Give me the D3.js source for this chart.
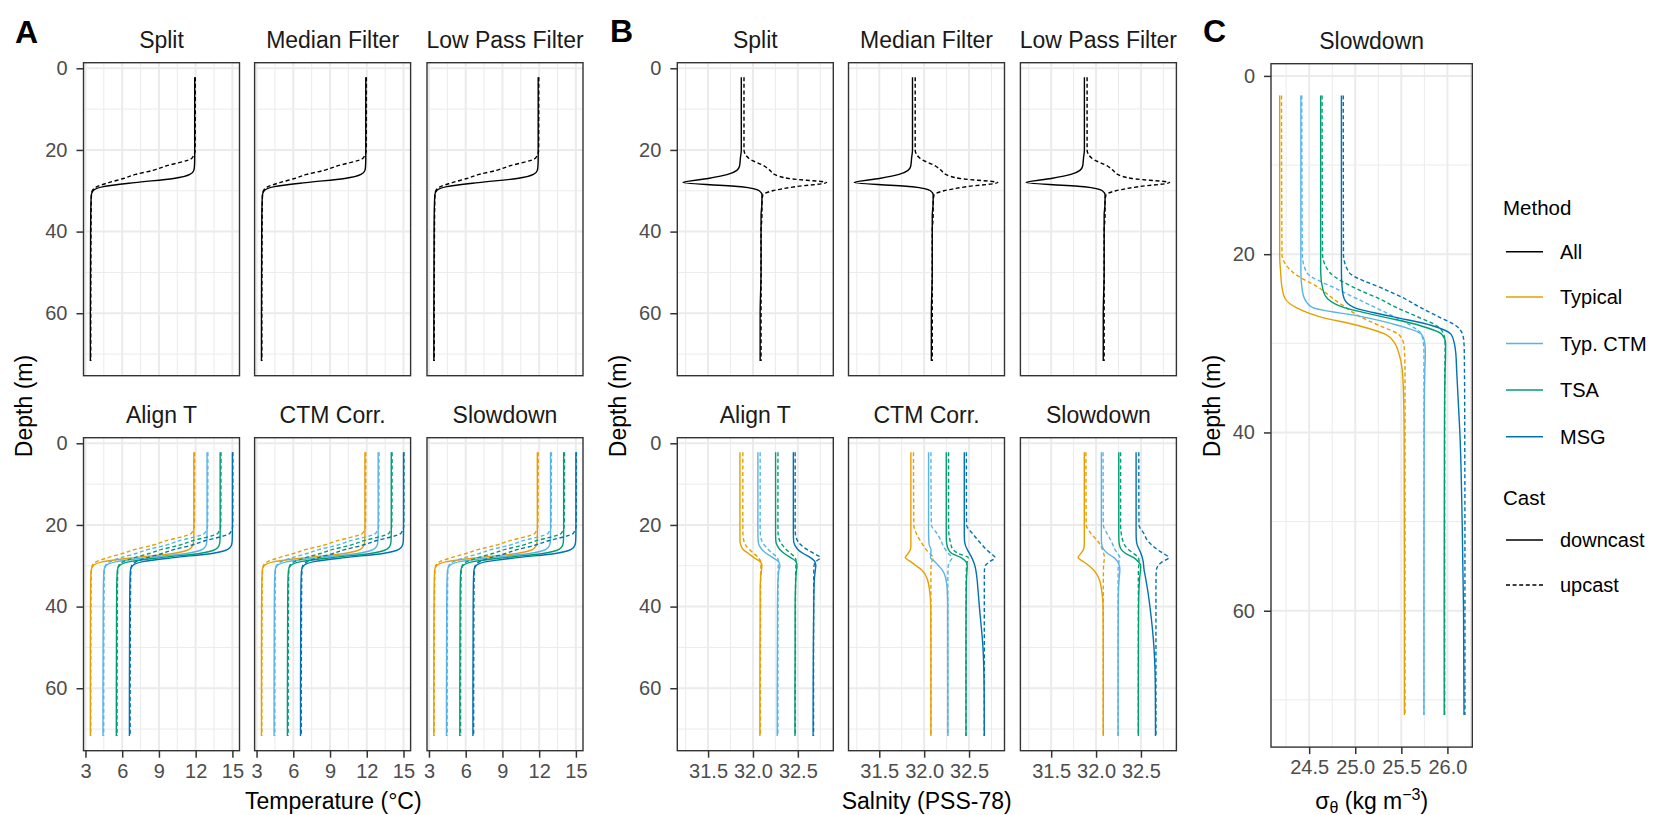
<!DOCTYPE html>
<html>
<head>
<meta charset="utf-8">
<script src="https://cdn.jsdelivr.net/npm/d3@7"></script>
<style>
  body { margin: 0; background: #fff; }
  svg text { font-family: "Liberation Sans", Arial, Helvetica, sans-serif; }
</style>
</head>
<body>
<svg id="fig" width="1654" height="815"></svg>
<script>
// depth of every sample (m), shared by all profiles
const depths = [2.2, 20, 22, 24, 25, 26, 27, 28, 29, 30, 31, 33, 36, 40, 50, 60, 71.7];

// temperature (deg C) - same in Split / Median Filter / Low Pass Filter
const tAllDown = [11.92, 11.92, 11.92, 11.9, 11.85, 11.53, 10.2, 7.03, 4.46, 3.62, 3.48, 3.45, 3.43, 3.42, 3.41, 3.4, 3.4];
const tAllUp   = [11.97, 11.96, 11.7, 9.5, 8.5, 7.1, 6.1, 4.9, 3.95, 3.56, 3.49, 3.47, 3.46, 3.45, 3.44, 3.43, 3.43];
// temperature - same in Align T / CTM Corr. / Slowdown
const tTypDown = [11.85, 11.85, 11.85, 11.83, 11.77, 11.47, 10.15, 7.0, 4.46, 3.62, 3.47, 3.44, 3.42, 3.41, 3.4, 3.4, 3.4];
const tTypUp   = [11.92, 11.9, 11.66, 9.45, 8.42, 7.06, 6.03, 4.84, 3.9, 3.55, 3.49, 3.47, 3.46, 3.45, 3.44, 3.43, 3.43];
const tCtmDown = [12.93, 12.93, 12.93, 12.91, 12.85, 12.55, 11.23, 8.08, 5.53, 4.67, 4.52, 4.48, 4.46, 4.45, 4.44, 4.43, 4.43];
const tCtmUp   = [13.0, 12.98, 12.74, 10.53, 9.5, 8.14, 7.12, 5.93, 4.99, 4.62, 4.55, 4.53, 4.52, 4.51, 4.5, 4.49, 4.49];
const tTsaDown = [14.0, 14.0, 14.0, 13.98, 13.92, 13.62, 12.3, 9.17, 6.62, 5.77, 5.61, 5.57, 5.55, 5.54, 5.53, 5.52, 5.52];
const tTsaUp   = [14.07, 14.05, 13.82, 11.61, 10.59, 9.23, 8.21, 7.02, 6.09, 5.71, 5.64, 5.62, 5.61, 5.6, 5.59, 5.58, 5.58];
const tMsgDown = [15.0, 15.0, 15.0, 14.98, 14.92, 14.62, 13.32, 10.21, 7.69, 6.84, 6.68, 6.64, 6.62, 6.61, 6.6, 6.59, 6.59];
const tMsgUp   = [15.04, 15.03, 14.8, 12.62, 11.61, 10.26, 9.25, 8.07, 7.15, 6.77, 6.71, 6.69, 6.68, 6.67, 6.66, 6.65, 6.65];

// salinity (PSS-78) - top row
const sAllDown = [31.87, 31.87, 31.86, 31.85, 31.82, 31.72, 31.5, 31.22, 31.87, 32.07, 32.1, 32.1, 32.09, 32.09, 32.09, 32.08, 32.08];
const sAllUp   = [31.9, 31.9, 31.95, 32.13, 32.19, 32.24, 32.4, 32.82, 32.47, 32.22, 32.11, 32.1, 32.1, 32.09, 32.09, 32.09, 32.09];
// salinity - Align T
const sTypAlignDown = [31.855, 31.855, 31.855, 31.856, 31.865, 31.89, 31.95, 32.01, 32.08, 32.1, 32.095, 32.085, 32.08, 32.08, 32.078, 32.077, 32.077];
const sTypAlignUp   = [31.887, 31.887, 31.888, 31.9, 31.92, 31.96, 32.01, 32.06, 32.085, 32.088, 32.087, 32.086, 32.085, 32.085, 32.084, 32.083, 32.083];
const sCtmAlignDown = [32.055, 32.055, 32.055, 32.058, 32.07, 32.1, 32.15, 32.22, 32.285, 32.3, 32.29, 32.28, 32.275, 32.273, 32.272, 32.27, 32.27];
const sCtmAlignUp   = [32.08, 32.08, 32.082, 32.1, 32.13, 32.17, 32.22, 32.27, 32.285, 32.282, 32.28, 32.28, 32.279, 32.279, 32.278, 32.278, 32.278];
const sTsaAlignDown = [32.252, 32.252, 32.252, 32.255, 32.27, 32.3, 32.35, 32.42, 32.48, 32.49, 32.485, 32.478, 32.473, 32.47, 32.47, 32.468, 32.468];
const sTsaAlignUp   = [32.278, 32.278, 32.28, 32.3, 32.33, 32.37, 32.42, 32.47, 32.48, 32.478, 32.476, 32.475, 32.474, 32.473, 32.473, 32.472, 32.472];
const sMsgAlignDown = [32.45, 32.45, 32.45, 32.453, 32.468, 32.5, 32.56, 32.64, 32.69, 32.7, 32.695, 32.685, 32.68, 32.677, 32.673, 32.671, 32.67];
const sMsgAlignUp   = [32.47, 32.47, 32.472, 32.5, 32.54, 32.6, 32.68, 32.75, 32.7, 32.68, 32.678, 32.677, 32.676, 32.676, 32.675, 32.675, 32.675];
// salinity - CTM Corr.
const sTypCtmDown = [31.852, 31.852, 31.852, 31.852, 31.852, 31.848, 31.82, 31.79, 31.85, 31.91, 31.97, 32.03, 32.06, 32.073, 32.075, 32.075, 32.075];
const sTypCtmUp   = [31.881, 31.885, 31.91, 31.96, 31.99, 32.02, 32.06, 32.1, 32.085, 32.077, 32.075, 32.075, 32.075, 32.075, 32.075, 32.075, 32.075];
const sCtmCtmDown = [32.049, 32.049, 32.049, 32.052, 32.058, 32.075, 32.075, 32.07, 32.12, 32.16, 32.2, 32.24, 32.258, 32.263, 32.264, 32.264, 32.264];
const sCtmCtmUp   = [32.075, 32.08, 32.14, 32.19, 32.21, 32.235, 32.27, 32.31, 32.285, 32.268, 32.265, 32.264, 32.264, 32.264, 32.264, 32.264, 32.264];
const sTsaCtmDown = [32.246, 32.246, 32.246, 32.248, 32.255, 32.27, 32.31, 32.41, 32.465, 32.48, 32.478, 32.472, 32.469, 32.467, 32.466, 32.466, 32.466];
const sTsaCtmUp   = [32.272, 32.272, 32.275, 32.29, 32.3, 32.32, 32.38, 32.49, 32.48, 32.472, 32.47, 32.468, 32.467, 32.467, 32.467, 32.467, 32.467];
const sMsgCtmDown = [32.447, 32.447, 32.447, 32.45, 32.46, 32.48, 32.505, 32.53, 32.55, 32.565, 32.575, 32.588, 32.6, 32.615, 32.655, 32.668, 32.67];
const sMsgCtmUp   = [32.47, 32.472, 32.535, 32.61, 32.65, 32.69, 32.745, 32.79, 32.73, 32.68, 32.672, 32.67, 32.67, 32.67, 32.67, 32.67, 32.67];
// salinity - Slowdown
const sTypSlowDown = [31.869, 31.869, 31.869, 31.869, 31.868, 31.86, 31.83, 31.8, 31.86, 31.92, 31.97, 32.03, 32.062, 32.078, 32.08, 32.08, 32.08];
const sTypSlowUp   = [31.887, 31.89, 31.94, 32.02, 32.05, 32.07, 32.085, 32.094, 32.088, 32.083, 32.082, 32.081, 32.08, 32.08, 32.08, 32.08, 32.08];
const sCtmSlowDown = [32.059, 32.059, 32.059, 32.06, 32.065, 32.085, 32.13, 32.2, 32.24, 32.26, 32.265, 32.258, 32.25, 32.247, 32.245, 32.245, 32.245];
const sCtmSlowUp   = [32.078, 32.08, 32.12, 32.17, 32.19, 32.21, 32.24, 32.265, 32.255, 32.248, 32.246, 32.245, 32.245, 32.245, 32.245, 32.245, 32.245];
const sTsaSlowDown = [32.253, 32.253, 32.253, 32.255, 32.262, 32.28, 32.33, 32.42, 32.47, 32.497, 32.495, 32.485, 32.478, 32.474, 32.472, 32.471, 32.471];
const sTsaSlowUp   = [32.273, 32.273, 32.28, 32.3, 32.32, 32.36, 32.42, 32.47, 32.48, 32.475, 32.472, 32.471, 32.471, 32.471, 32.471, 32.471, 32.471];
const sMsgSlowDown = [32.446, 32.446, 32.446, 32.45, 32.46, 32.48, 32.5, 32.515, 32.525, 32.53, 32.535, 32.552, 32.575, 32.6, 32.645, 32.66, 32.662];
const sMsgSlowUp   = [32.476, 32.478, 32.53, 32.58, 32.625, 32.68, 32.75, 32.81, 32.74, 32.69, 32.672, 32.668, 32.667, 32.667, 32.667, 32.667, 32.667];

// potential density anomaly (kg m-3) - Slowdown
const dTypDown = [24.18, 24.18, 24.19, 24.21, 24.24, 24.36, 24.61, 25.03, 25.33, 25.43, 25.47, 25.51, 25.525, 25.53, 25.532, 25.533, 25.533];
const dTypUp   = [24.2, 24.205, 24.32, 24.64, 24.76, 24.9, 25.05, 25.26, 25.47, 25.525, 25.535, 25.54, 25.54, 25.54, 25.54, 25.54, 25.54];
const dCtmDown = [24.41, 24.41, 24.41, 24.425, 24.45, 24.54, 25.07, 25.47, 25.72, 25.755, 25.76, 25.755, 25.75, 25.748, 25.746, 25.745, 25.745];
const dCtmUp   = [24.42, 24.425, 24.47, 24.82, 25.02, 25.22, 25.42, 25.6, 25.72, 25.74, 25.745, 25.745, 25.745, 25.745, 25.745, 25.745, 25.745];
const dTsaDown = [24.625, 24.625, 24.625, 24.65, 24.7, 24.88, 25.29, 25.7, 25.94, 25.98, 25.98, 25.975, 25.97, 25.968, 25.966, 25.965, 25.965];
const dTsaUp   = [24.64, 24.645, 24.72, 25.04, 25.26, 25.45, 25.67, 25.88, 25.96, 25.975, 25.975, 25.972, 25.97, 25.97, 25.97, 25.97, 25.97];
const dMsgDown = [24.85, 24.85, 24.85, 24.86, 24.88, 24.99, 25.4, 25.83, 26.04, 26.075, 26.09, 26.1, 26.115, 26.135, 26.16, 26.175, 26.18];
const dMsgUp   = [24.87, 24.872, 24.93, 25.33, 25.54, 25.71, 25.9, 26.09, 26.165, 26.18, 26.183, 26.185, 26.187, 26.188, 26.19, 26.19, 26.19];

const methods = ["All", "Typical", "Typ. CTM", "TSA", "MSG"];
const methodColors = ["#000000", "#E69F00", "#56B4E9", "#009E73", "#0072B2"];
const castNames = ["downcast", "upcast"];
const topTitles = ["Split", "Median Filter", "Low Pass Filter"];
const bottomTitles = ["Align T", "CTM Corr.", "Slowdown"];

const depthTicks = [0, 20, 40, 60];
const depthMinor = [10, 30, 50, 70];
const tempTicks = [3, 6, 9, 12, 15];
const tempMinor = [4.5, 7.5, 10.5, 13.5];
const salTicks = [31.5, 32.0, 32.5];
const salMinor = [31.25, 31.75, 32.25, 32.75];
const densTicks = [24.5, 25.0, 25.5, 26.0];
const densMinor = [24.25, 24.75, 25.25, 25.75, 26.25];

// scale ranges as ggplot expanded them
const depthDomain = [-1.37, 75.3];
const tempDomain = [2.84, 15.58];
const salDomain = [31.157, 32.895];
const densDomain = [24.086, 26.27];

const svg = d3.select("#fig");
const FONT = '"Liberation Sans", Arial, Helvetica, sans-serif';

function pair(m, down, up) {
    return [{method: m, cast: 0, values: down}, {method: m, cast: 1, values: up}];
}

var topTemp = pair(0, tAllDown, tAllUp);
var bottomTemp = [].concat(pair(1, tTypDown, tTypUp), pair(2, tCtmDown, tCtmUp),
    pair(3, tTsaDown, tTsaUp), pair(4, tMsgDown, tMsgUp));
var topSal = pair(0, sAllDown, sAllUp);
var alignSal = [].concat(pair(1, sTypAlignDown, sTypAlignUp), pair(2, sCtmAlignDown, sCtmAlignUp),
    pair(3, sTsaAlignDown, sTsaAlignUp), pair(4, sMsgAlignDown, sMsgAlignUp));
var ctmSal = [].concat(pair(1, sTypCtmDown, sTypCtmUp), pair(2, sCtmCtmDown, sCtmCtmUp),
    pair(3, sTsaCtmDown, sTsaCtmUp), pair(4, sMsgCtmDown, sMsgCtmUp));
var slowSal = [].concat(pair(1, sTypSlowDown, sTypSlowUp), pair(2, sCtmSlowDown, sCtmSlowUp),
    pair(3, sTsaSlowDown, sTsaSlowUp), pair(4, sMsgSlowDown, sMsgSlowUp));
var slowDens = [].concat(pair(1, dTypDown, dTypUp), pair(2, dCtmDown, dCtmUp),
    pair(3, dTsaDown, dTsaUp), pair(4, dMsgDown, dMsgUp));

function styleAxis(g) {
    g.select(".domain").remove();
    g.attr("font-family", FONT).attr("font-size", 20);
    g.selectAll(".tick line").attr("stroke", "#333333").attr("stroke-width", 1.5);
    g.selectAll(".tick text").attr("fill", "#4D4D4D");
}

function drawPanel(p) {
    var x = d3.scaleLinear().domain(p.xDomain).range([p.left, p.left + p.width]);
    var y = d3.scaleLinear().domain(depthDomain).range([p.top, p.top + p.height]);
    var g = svg.append("g");

    g.append("rect").attr("x", p.left).attr("y", p.top)
        .attr("width", p.width).attr("height", p.height).attr("fill", "#fff");

    // grid: minor then major
    [[p.xMinor, 1], [p.xTicks, 2]].forEach(function(gr) {
        g.selectAll(null).data(gr[0]).enter().append("line")
            .attr("x1", d => x(d)).attr("x2", d => x(d))
            .attr("y1", p.top).attr("y2", p.top + p.height)
            .attr("stroke", "#EBEBEB").attr("stroke-width", gr[1]);
    });
    [[depthMinor, 1], [depthTicks, 2]].forEach(function(gr) {
        g.selectAll(null).data(gr[0]).enter().append("line")
            .attr("x1", p.left).attr("x2", p.left + p.width)
            .attr("y1", d => y(d)).attr("y2", d => y(d))
            .attr("stroke", "#EBEBEB").attr("stroke-width", gr[1]);
    });

    var line = d3.line()
        .x(d => x(d[0]))
        .y(d => y(d[1]))
        .curve(d3.curveMonotoneY);

    g.selectAll(null).data(p.series).enter().append("path")
        .attr("d", s => line(s.values.map((v, i) => [v, depths[i]])))
        .attr("fill", "none")
        .attr("stroke", s => methodColors[s.method])
        .attr("stroke-width", 1.4)
        .attr("stroke-dasharray", s => s.cast == 1 ? "4,2.6" : null);

    g.append("rect").attr("x", p.left).attr("y", p.top)
        .attr("width", p.width).attr("height", p.height)
        .attr("fill", "none").attr("stroke", "#333333").attr("stroke-width", 1.4);

    // strip title
    g.append("text")
        .attr("x", p.left + p.width / 2).attr("y", p.top - 14.5)
        .attr("text-anchor", "middle").attr("font-size", 23).attr("fill", "#1A1A1A")
        .text(p.title);

    if (p.yAxis) {
        svg.append("g").attr("transform", "translate(" + p.left + ",0)")
            .call(d3.axisLeft(y).tickValues(depthTicks).tickSize(7).tickPadding(9))
            .call(styleAxis);
    }
    if (p.xAxis) {
        svg.append("g").attr("transform", "translate(0," + (p.top + p.height) + ")")
            .call(d3.axisBottom(x).tickValues(p.xTicks).tickSize(7).tickPadding(6).tickFormat(p.fmt))
            .call(styleAxis);
    }
}

var rowTop = [62.7, 437.7];
var rowH = 313;
var colA = [83.5, 254.6, 427];
var colB = [677.3, 848.5, 1020.4];
var colW = 156;

var tempSeries = [topTemp, topTemp, topTemp, bottomTemp, bottomTemp, bottomTemp];
var salSeries = [topSal, topSal, topSal, alignSal, ctmSal, slowSal];

for (var k = 0; k < 6; k++) {
    var row = Math.floor(k / 3), col = k % 3;
    var title = row == 0 ? topTitles[col] : bottomTitles[col];
    drawPanel({left: colA[col], top: rowTop[row], width: colW, height: rowH, title: title,
        xDomain: tempDomain, xTicks: tempTicks, xMinor: tempMinor, fmt: d3.format("d"),
        series: tempSeries[k], yAxis: col == 0, xAxis: row == 1});
    drawPanel({left: colB[col], top: rowTop[row], width: colW, height: rowH, title: title,
        xDomain: salDomain, xTicks: salTicks, xMinor: salMinor, fmt: d3.format(".1f"),
        series: salSeries[k], yAxis: col == 0, xAxis: row == 1});
}
drawPanel({left: 1271, top: 63.7, width: 201.3, height: 683.4, title: "Slowdown",
    xDomain: densDomain, xTicks: densTicks, xMinor: densMinor, fmt: d3.format(".1f"),
    series: slowDens, yAxis: true, xAxis: true});

// panel letters
[["A", 15, 42.7], ["B", 610, 42], ["C", 1203, 42]].forEach(function(l) {
    svg.append("text").attr("x", l[1]).attr("y", l[2])
        .attr("font-size", 32).attr("font-weight", "bold").text(l[0]);
});

// axis titles
[26, 620, 1214].forEach(function(cx) {
    svg.append("text")
        .attr("transform", "translate(" + cx + ",406) rotate(-90)")
        .attr("dy", "0.26em").attr("text-anchor", "middle").attr("font-size", 23)
        .text("Depth (m)");
});
svg.append("text").attr("x", 333.3).attr("y", 809).attr("text-anchor", "middle")
    .attr("font-size", 23).text("Temperature (°C)");
svg.append("text").attr("x", 926.7).attr("y", 809).attr("text-anchor", "middle")
    .attr("font-size", 23).text("Salnity (PSS-78)");
var sig = svg.append("text").attr("x", 1371.7).attr("y", 809).attr("text-anchor", "middle")
    .attr("font-size", 23);
sig.append("tspan").text("σ");
sig.append("tspan").attr("font-size", 16).attr("dy", 4).text("θ");
sig.append("tspan").attr("dy", -4).text(" (kg m");
sig.append("tspan").attr("font-size", 16).attr("dy", -9).text("−3");
sig.append("tspan").attr("dy", 9).text(")");

// legend
var leg = svg.append("g");
leg.append("text").attr("x", 1503).attr("y", 215).attr("font-size", 20.5).text("Method");
var keyY = [251.7, 297, 343.5, 390, 436.7];
methods.forEach(function(m, i) {
    leg.append("line").attr("x1", 1506).attr("x2", 1543).attr("y1", keyY[i]).attr("y2", keyY[i])
        .attr("stroke", methodColors[i]).attr("stroke-width", 1.5);
    leg.append("text").attr("x", 1560).attr("y", keyY[i]).attr("dy", "0.35em")
        .attr("font-size", 20).text(m);
});
leg.append("text").attr("x", 1503).attr("y", 505).attr("font-size", 20.5).text("Cast");
var castY = [540, 585];
castNames.forEach(function(c, i) {
    leg.append("line").attr("x1", 1506).attr("x2", 1543).attr("y1", castY[i]).attr("y2", castY[i])
        .attr("stroke", "#000").attr("stroke-width", 1.5)
        .attr("stroke-dasharray", i == 1 ? "4,2.6" : null);
    leg.append("text").attr("x", 1560).attr("y", castY[i]).attr("dy", "0.35em")
        .attr("font-size", 20).text(c);
});
</script>
</body>
</html>
